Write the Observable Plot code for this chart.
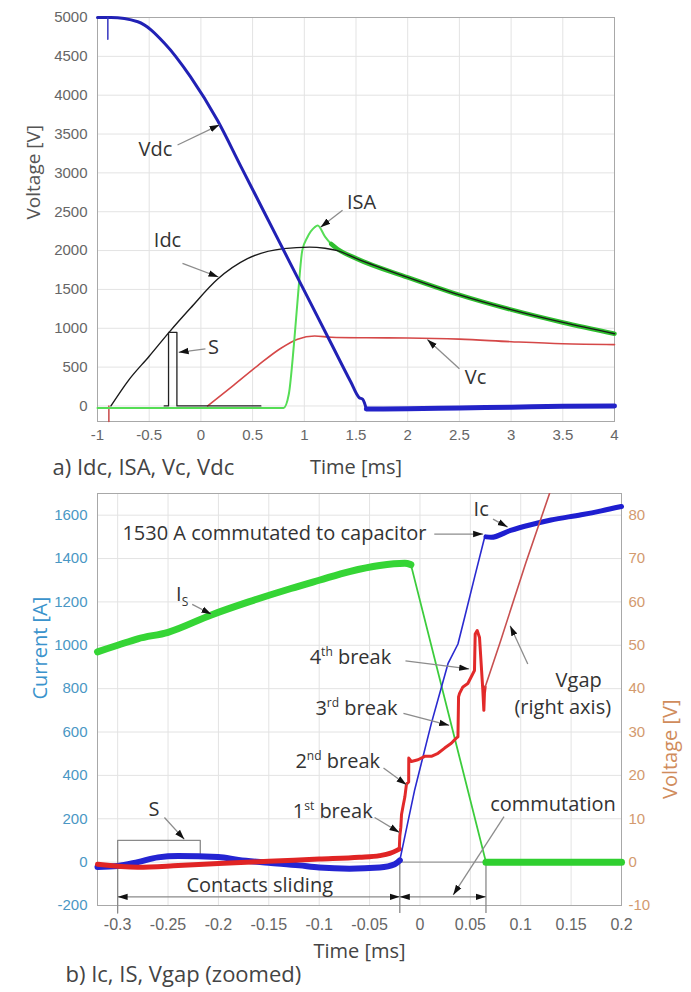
<!DOCTYPE html>
<html><head><meta charset="utf-8">
<script src="https://cdn.jsdelivr.net/npm/d3@7"></script>
<script src="https://cdn.jsdelivr.net/npm/@observablehq/plot@0.6"></script>
<style>
body{margin:0;background:#fff;width:691px;height:992px;overflow:hidden}
#chart svg{display:block}
</style></head><body><div id="chart"></div>
<script>
// ================= TOP CHART DATA (a) =================
const topXTicks = [-1, -0.5, 0, 0.5, 1, 1.5, 2, 2.5, 3, 3.5, 4];
const topYTicks = [0, 500, 1000, 1500, 2000, 2500, 3000, 3500, 4000, 4500, 5000];

const vdcT = [-1, -0.87, -0.61, -0.35, -0.1, 0.16, 0.39, 0.61, 0.84, 1.06, 1.26, 1.45, 1.53, 1.565, 1.6];
const vdcV = [5000, 5000, 4945, 4666, 4236, 3677, 3075, 2500, 1900, 1326, 804, 308, 108, 86, -40];
const vdcTailT = [1.6, 2, 2.5, 3, 3.5, 4];
const vdcTailV = [-40, -35, -25, -15, -5, 0];
const vdcBlipT = [-0.9, -0.9];
const vdcBlipV = [5000, 4720];

const idcT = [-0.87, -0.7, -0.5, -0.3, -0.1, 0.16, 0.45, 0.8, 1.05, 1.2, 1.32, 1.5, 2, 2.5, 3, 3.5, 4];
const idcV = [0, 330, 640, 960, 1260, 1630, 1895, 2025, 2045, 2030, 2000, 1900, 1655, 1430, 1240, 1075, 930];
const startGlitchT = [-0.89, -0.89];
const startGlitchV = [0, -200];

const isaT = [-1, 0.8, 0.85, 0.9, 0.94, 0.98, 1.03, 1.1, 1.13, 1.2, 1.26, 1.32];
const isaV = [-25, -25, 150, 795, 1440, 2000, 2171, 2300, 2322, 2180, 2085, 2021];
const isaDecayT = [1.26, 1.32, 1.5, 2, 2.5, 3, 3.5, 4];
const isaDecayV = [2085, 2021, 1900, 1655, 1430, 1240, 1075, 930];

const vcT = [0.065, 0.3, 0.55, 0.77, 0.935, 1.1, 1.26, 1.6, 2, 2.5, 3, 3.5, 4];
const vcV = [0, 250, 520, 740, 860, 900, 885, 878, 875, 860, 827, 800, 790];

const sT = [-0.355, -0.313, -0.313, -0.232, -0.232, 0.58];
const sV = [0, 0, 946, 946, 0, 0];

const topLabels = ["Vdc", "Idc", "ISA", "S", "Vc"];
const topLabelT = [-0.44, -0.323, 1.553, 0.122, 2.656];
const topLabelV = [3295, 2132, 2623, 749, 362];
const topArrowT1 = [-0.226, -0.178, 1.37, 0.044, 2.5];
const topArrowV1 = [3359, 1835, 2519, 736, 478];
const topArrowT2 = [0.18, 0.17, 1.157, -0.215, 2.19];
const topArrowV2 = [3618, 1660, 2300, 690, 855];

// ================= BOTTOM CHART DATA (b) =================
const botXTicks = [-0.3, -0.25, -0.2, -0.15, -0.1, -0.05, 0, 0.05, 0.1, 0.15, 0.2];
const botYTicks = [-200, 0, 200, 400, 600, 800, 1000, 1200, 1400, 1600];
const voltPerAmp = 1 / 20; // right axis: 80 V <-> 1600 A

const icNoisyT = [-0.32, -0.3, -0.28, -0.26, -0.24, -0.2, -0.18, -0.15, -0.12, -0.1, -0.07, -0.04, -0.025, -0.02];
const icNoisyI = [-22, -18, 0, 22, 28, 24, 10, -3, -15, -25, -30, -25, -10, 8];
const icRiseT = [-0.02, -0.0052, 0.0113, 0.0278, 0.0377, 0.0443, 0.0541, 0.064, 0.0655];
const icRiseI = [8, 334, 640, 915, 1006, 1128, 1312, 1495, 1503];
const icAfterT = [0.0655, 0.0706, 0.09, 0.11, 0.13, 0.16, 0.18, 0.2];
const icAfterI = [1500, 1498, 1530, 1556, 1578, 1602, 1620, 1640];

const isT = [-0.32, -0.3, -0.28, -0.25, -0.207, -0.17, -0.128, -0.1, -0.07, -0.04, -0.015, -0.009];
const isI = [970, 1000, 1030, 1060, 1140, 1200, 1262, 1300, 1340, 1368, 1378, 1372];
const isFallT = [-0.009, 0.0655];
const isFallI = [1372, 0];
const isFlatT = [0.0655, 0.1, 0.15, 0.2];
const isFlatI = [0, 0, 0, 0];

const vgapNoisyT = [-0.32, -0.28, -0.24, -0.2, -0.15, -0.1, -0.06, -0.04, -0.03, -0.0205];
const vgapNoisyV = [-0.5, -1.2, -0.8, -0.3, 0.2, 0.7, 1.1, 1.5, 2, 3];
const vgapStepT = [-0.0205, -0.0200, -0.0190, -0.0183, -0.0167, -0.0150, -0.0134, -0.0112, -0.0111, -0.0085, -0.0019, 0.0047, 0.0113, 0.0179, 0.0245, 0.0311, 0.0360, 0.0377, 0.0383, 0.0393, 0.0426, 0.0475, 0.0508, 0.0541, 0.0548, 0.0568, 0.0591, 0.0624, 0.0634, 0.0640, 0.0647];
const vgapStepV = [3, 6, 8, 11, 13, 15, 18, 18.5, 24, 23.2, 23.6, 24.4, 24.4, 25.1, 26.3, 27.4, 28.6, 28.9, 38.1, 38.9, 40.4, 41.2, 42.7, 44.2, 52.6, 53.4, 51.8, 39.6, 35, 39, 40.4];
const vgapRiseT = [0.0647, 0.08, 0.105, 0.128, 0.14];
const vgapRiseV = [40.4, 51, 69, 84.6, 93];

const sBoxT = [-0.218, -0.218, -0.3, -0.3];
const sBoxI = [20, 100, 100, -235];
const extT = [-0.02, 0.0655];
const extTopI = [0, 0];
const extBottomI = -235;
const zeroSegT = [-0.02, 0.0655];
const dimT1 = [-0.3, -0.02];
const dimT2 = [-0.02, 0.0655];
const dimI = -160;

const botLabels = ["1530 A commutated to capacitor", "Ic", "I_S", "4^th break", "3^rd break", "2^nd break", "1^st break", "S", "Contacts sliding", "commutation", "Vgap", "(right axis)"];
const botLabelT = [-0.1444, 0.0607, -0.236, -0.069, -0.063, -0.0816, -0.0866, -0.264, -0.159, 0.132, 0.1575, 0.1417];
const botLabelI = [1513, 1627, 1234, 942, 709, 462, 233, 242, -110, 265, 837, 713];
const botArrowT1 = [0.0142, 0.0725, -0.226, -0.0144, -0.0164, -0.0362, -0.045, -0.2536, 0.0834, 0.107];
const botArrowI1 = [1513, 1582, 1189, 928, 686, 434, 206, 206, 210, 914];
const botArrowT2 = [0.0627, 0.087, -0.207, 0.0488, 0.029, -0.0134, -0.0204, -0.2338, 0.033, 0.0895];
const botArrowI2 = [1513, 1545, 1143, 891, 631, 357, 137, 105, -151, 1090];

// ================= helpers =================
const rows = (T, Y, k = 1) => T.map((t, i) => ({t, v: Y[i] * k}));
const ln = (T, Y, opts, k = 1) => Plot.line(rows(T, Y, k), {x: "t", y: "v", ...opts});
const annoFont = "'Open Sans', 'DejaVu Sans', sans-serif";

function finish(svg, id) {
  const s = d3.select(svg);
  const defs = s.append("defs");
  defs.append("marker").attr("id", id)
    .attr("viewBox", "0 0 10 10").attr("refX", 10).attr("refY", 5)
    .attr("markerWidth", 10).attr("markerHeight", 10)
    .attr("markerUnits", "userSpaceOnUse").attr("orient", "auto-start-reverse")
    .append("path").attr("d", "M0,1.8L10,5L0,8.2z").attr("fill", "#111");
  s.selectAll("[marker-end]").attr("marker-end", `url(#${id})`);
  s.selectAll("[marker-start]").attr("marker-start", `url(#${id})`);
  // superscripts / subscripts
  s.selectAll("text").each(function () {
    const str = this.textContent;
    const m = str.match(/^(.*?)([\^_])([A-Za-z]+)(.*)$/);
    if (!m) return;
    const el = d3.select(this);
    el.text(null);
    const up = m[2] === "^";
    el.append("tspan").text(m[1]);
    el.append("tspan").attr("dy", up ? -8 : 5).attr("font-size", "12px").text(m[3]);
    el.append("tspan").attr("dy", up ? 8 : -5).text(m[4]);
  });
}

// ================= TOP PLOT =================
const topPlot = Plot.plot({
  width: 691, height: 475,
  marginLeft: 97, marginRight: 77, marginTop: 17, marginBottom: 54,
  style: {fontFamily: "'Liberation Sans', Arial, sans-serif", fontSize: "15px", background: "#fff", overflow: "visible"},
  x: {domain: [-1, 4]},
  y: {domain: [-200, 5000]},
  marks: [
    Plot.gridX(topXTicks, {stroke: "#e3e3e3", strokeOpacity: 1}),
    Plot.gridY(topYTicks, {stroke: "#e3e3e3", strokeOpacity: 1}),
    Plot.axisX(topXTicks, {tickSize: 0, tickPadding: 8, tickFormat: d => String(d), color: "#666", label: null, fontSize: 15}),
    Plot.axisY(topYTicks, {tickSize: 0, tickPadding: 10, tickFormat: d => String(d), color: "#666", label: null, fontSize: 15}),
    Plot.frame({stroke: "#a8a8a8"}),
    ln(startGlitchT, startGlitchV, {stroke: "#c84848", strokeWidth: 1.5}),
    ln(vcT, vcV, {stroke: "#d54848", strokeWidth: 1.6, curve: "monotone-x"}),
    ln(isaT, isaV, {stroke: "#55dd55", strokeWidth: 2, curve: "monotone-x"}),
    ln(isaDecayT, isaDecayV, {stroke: "#2fbf2f", strokeWidth: 4.5, curve: "monotone-x"}),
    ln(idcT, idcV, {stroke: "#1a1a1a", strokeWidth: 1.4, curve: "monotone-x"}),
    ln(sT, sV, {stroke: "#222", strokeWidth: 1.3}),
    ln(vdcT, vdcV, {stroke: "#2121b5", strokeWidth: 3, curve: "monotone-x"}),
    ln(vdcTailT, vdcTailV, {stroke: "#2323c8", strokeWidth: 5, curve: "monotone-x"}),
    ln(vdcBlipT, vdcBlipV, {stroke: "#3535c0", strokeWidth: 1.5}),
    Plot.link(topLabels, {x1: (d, i) => topArrowT1[i], y1: (d, i) => topArrowV1[i], x2: (d, i) => topArrowT2[i], y2: (d, i) => topArrowV2[i], stroke: "#8c8c8c", strokeWidth: 1.3, markerEnd: "arrow"}),
    Plot.text(topLabels, {x: (d, i) => topLabelT[i], y: (d, i) => topLabelV[i], text: d => d, fontFamily: annoFont, fontSize: 20, fill: "#333"}),
    Plot.text(["Voltage [V]"], {frameAnchor: "left", text: d => d, rotate: -90, dx: -64, fontFamily: annoFont, fontSize: 19, fill: "#555"}),
    Plot.text(["Time [ms]"], {frameAnchor: "bottom", text: d => d, dy: 52, fontFamily: annoFont, fontSize: 20, fill: "#444"}),
    Plot.text(["a) Idc, ISA, Vc, Vdc"], {frameAnchor: "bottom-left", text: d => d, dx: -45, dy: 53, textAnchor: "start", fontFamily: annoFont, fontSize: 22, fill: "#444"})
  ]
});
finish(topPlot, "headA");

// ================= BOTTOM PLOT =================
const botPlot = Plot.plot({
  width: 691, height: 517,
  marginLeft: 97, marginRight: 70, marginTop: 18, marginBottom: 87,
  style: {fontFamily: "'Liberation Sans', Arial, sans-serif", fontSize: "15px", background: "#fff", overflow: "visible"},
  x: {domain: [-0.32, 0.2]},
  y: {domain: [-200, 1700]},
  marks: [
    Plot.gridX(botXTicks, {stroke: "#e3e3e3", strokeOpacity: 1}),
    Plot.gridY(botYTicks, {stroke: "#e3e3e3", strokeOpacity: 1}),
    Plot.axisX(botXTicks, {tickSize: 0, tickPadding: 13, tickFormat: d => String(d), color: "#666", label: null, fontSize: 16}),
    Plot.axisY(botYTicks, {anchor: "left", tickSize: 0, tickPadding: 10, tickFormat: d => String(d), color: "#4a97c4", label: null, fontSize: 15}),
    Plot.axisY(botYTicks, {anchor: "right", tickSize: 0, tickPadding: 7, tickFormat: d => String(d * voltPerAmp), color: "#d39a6e", label: null, fontSize: 15}),
    Plot.frame({stroke: "#a8a8a8"}),
    // annotation geometry (S box, extension lines, zero segment)
    ln(sBoxT, sBoxI, {stroke: "#8a8a8a", strokeWidth: 1.3}),
    Plot.link(extT, {x1: d => d, x2: d => d, y1: (d, i) => extTopI[i], y2: extBottomI, stroke: "#8a8a8a", strokeWidth: 1.3}),
    ln(zeroSegT, [0, 0], {stroke: "#9a9a9a", strokeWidth: 1.3}),
    // series
    ln(isT, isI, {stroke: "#35d535", strokeWidth: 7, curve: "monotone-x"}),
    ln(isFallT, isFallI, {stroke: "#3ccc3c", strokeWidth: 1.8}),
    ln(isFlatT, isFlatI, {stroke: "#2fcf2f", strokeWidth: 7}),
    ln(icNoisyT, icNoisyI, {stroke: "#2424d2", strokeWidth: 6, curve: "monotone-x"}),
    ln(vgapNoisyT, vgapNoisyV, {stroke: "#e02424", strokeWidth: 5, curve: "monotone-x"}, 1 / voltPerAmp),
    ln(icRiseT, icRiseI, {stroke: "#2a2ad0", strokeWidth: 1.6}),
    ln(icAfterT, icAfterI, {stroke: "#1e1ed0", strokeWidth: 5, curve: "monotone-x"}),
    ln(vgapStepT, vgapStepV, {stroke: "#e22a2a", strokeWidth: 3}, 1 / voltPerAmp),
    ln(vgapRiseT, vgapRiseV, {stroke: "#c85050", strokeWidth: 1.6, clip: true}, 1 / voltPerAmp),
    // dimension lines
    Plot.link(dimT1, {x1: d => d, x2: (d, i) => dimT2[i], y1: dimI, y2: dimI, stroke: "#8a8a8a", strokeWidth: 1.3, markerStart: "arrow", markerEnd: "arrow"}),
    // callouts
    Plot.link(botLabels.slice(0, botArrowT1.length), {x1: (d, i) => botArrowT1[i], y1: (d, i) => botArrowI1[i], x2: (d, i) => botArrowT2[i], y2: (d, i) => botArrowI2[i], stroke: "#8c8c8c", strokeWidth: 1.3, markerEnd: "arrow"}),
    Plot.text(botLabels, {x: (d, i) => botLabelT[i], y: (d, i) => botLabelI[i], text: d => d, fontFamily: annoFont, fontSize: 20, fill: "#333"}),
    Plot.text(["Current [A]"], {frameAnchor: "left", text: d => d, rotate: -90, dx: -57, fontFamily: annoFont, fontSize: 20, fill: "#3a93cc"}),
    Plot.text(["Voltage [V]"], {frameAnchor: "right", text: d => d, rotate: -90, dx: 49, fontFamily: annoFont, fontSize: 20, fill: "#d08c5c"}),
    Plot.text(["Time [ms]"], {frameAnchor: "bottom", text: d => d, dy: 52, fontFamily: annoFont, fontSize: 20, fill: "#444"}),
    Plot.text(["b) Ic, IS, Vgap (zoomed)"], {frameAnchor: "bottom-left", text: d => d, dx: -32, dy: 76, textAnchor: "start", fontFamily: annoFont, fontSize: 22, fill: "#444"})
  ]
});
finish(botPlot, "headB");

document.getElementById("chart").append(topPlot, botPlot);
</script></body></html>
